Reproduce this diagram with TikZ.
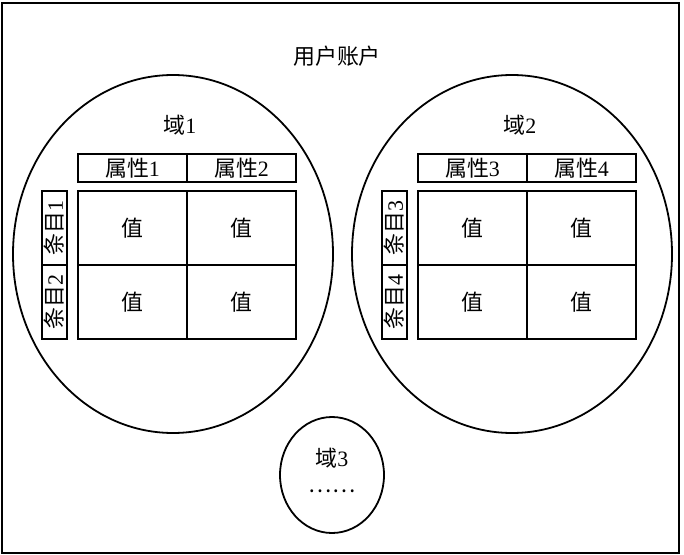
\documentclass[tikz,border=0pt]{standalone}
\usepackage{fontspec}
\setmainfont{Liberation Serif}
\newfontfamily\cjk{Noto Sans CJK SC}
\newcommand{\zh}[1]{{\cjk #1}}
\usetikzlibrary{shapes.geometric, positioning}
\tikzset{
  domainbox/.style={
    ellipse, draw=black, line width=1.8bp, inner sep=0pt,
    minimum width=320bp, minimum height=358bp
  },
  attr/.style={
    rectangle, draw=black, line width=1.8bp, inner sep=0pt,
    minimum width=109bp, minimum height=28bp
  },
  cell/.style={
    rectangle, draw=black, line width=1.8bp, inner sep=0pt,
    minimum width=109bp, minimum height=74bp
  },
  entry/.style={
    rectangle, draw=black, line width=1.8bp, inner sep=0pt,
    minimum width=74bp, minimum height=25bp, rotate=90
  }
}

\begin{document}
\begin{tikzpicture}[x=1bp, y=-1bp, every node/.style={font=\fontsize{22}{25}\selectfont}]
      \useasboundingbox (0,0) rectangle (684,555);

      % Account frame
      \draw[line width=2bp] (2,3) rectangle (679,553);
      \node (account) at (337,56) {\zh{用户账户}};

      % Domain 1
      \node[domainbox] (dom1) at (173,254) {};
      \node (dom1label) at (180,125) {\zh{域}1};
      \node[attr] (attr1) at (132.5,168) {\zh{属性}1};
      \node[attr] (attr2) at (241.5,168) {\zh{属性}2};
      \node[cell] (val11) at (132.5,228) {\zh{值}};
      \node[cell] (val12) at (241.5,228) {\zh{值}};
      \node[cell] (val21) at (132.5,302) {\zh{值}};
      \node[cell] (val22) at (241.5,302) {\zh{值}};
      \node[entry] (entry1) at (54.5,228) {\zh{条目}1};
      \node[entry] (entry2) at (54.5,302) {\zh{条目}2};

      % Domain 2
      \node[domainbox] (dom2) at (512,254) {};
      \node (dom2label) at (520,125) {\zh{域}2};
      \node[attr] (attr3) at (472.5,168) {\zh{属性}3};
      \node[attr] (attr4) at (581.5,168) {\zh{属性}4};
      \node[cell] (val31) at (472.5,228) {\zh{值}};
      \node[cell] (val32) at (581.5,228) {\zh{值}};
      \node[cell] (val41) at (472.5,302) {\zh{值}};
      \node[cell] (val42) at (581.5,302) {\zh{值}};
      \node[entry] (entry3) at (394.5,228) {\zh{条目}3};
      \node[entry] (entry4) at (394.5,302) {\zh{条目}4};

      % Domain 3
      \node[domainbox, minimum width=104bp, minimum height=116bp] (dom3) at (332,475) {};
      \node (dom3label) at (332,458) {\zh{域}3};
      \node (dom3more) at (332,491) {\zh{……}};
    \end{tikzpicture}
\end{document}
